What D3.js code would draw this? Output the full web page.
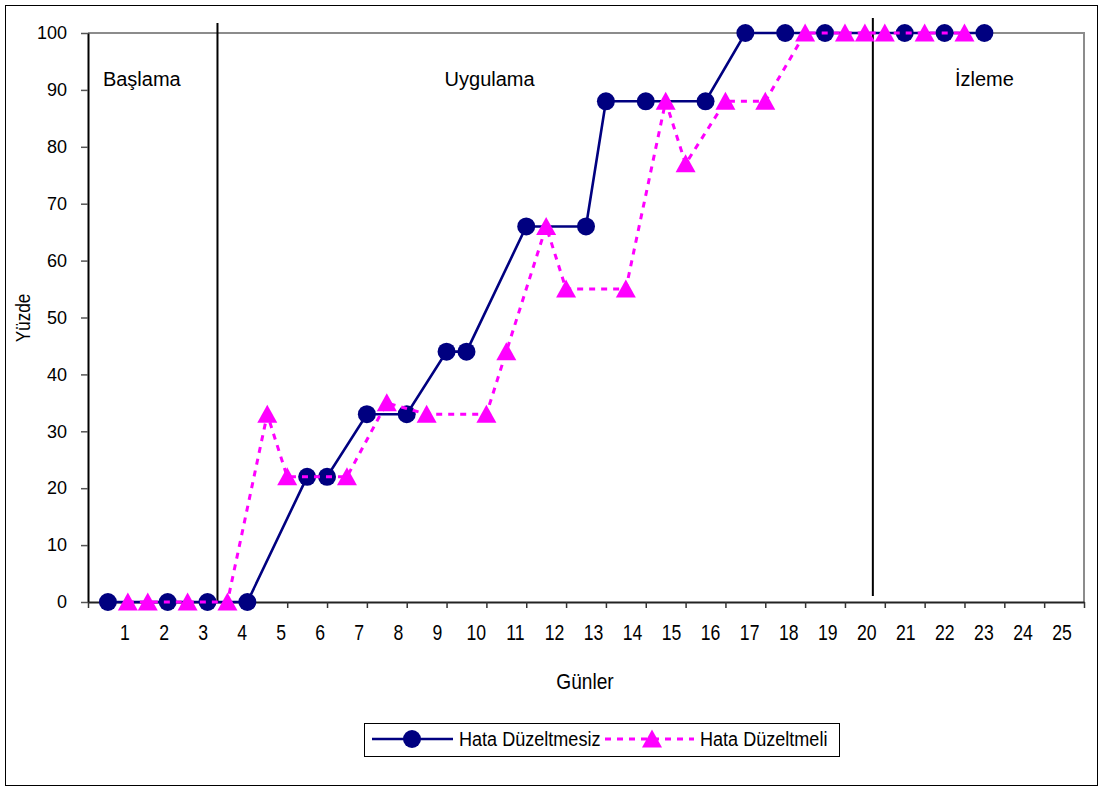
<!DOCTYPE html>
<html>
<head>
<meta charset="utf-8">
<script src="https://cdn.jsdelivr.net/npm/d3@7"></script>
<style>
  html, body { margin: 0; padding: 0; background: #fff; }
  svg { display: block; font-family: "Liberation Sans", Arial, sans-serif; }
</style>
</head>
<body>
<svg id="chart" width="1103" height="787"></svg>
<script>
// Days on which each series was measured (half-day steps) and the percentages
const plainDays = [0.5, 2, 3, 4, 5.5, 6, 7, 8, 9, 9.5, 11, 12.5, 13, 14, 15.5, 16.5, 17.5, 18.5, 20.5, 21.5, 22.5];
const plainValues = [0, 0, 0, 0, 22, 22, 33, 33, 44, 44, 66, 66, 88, 88, 88, 100, 100, 100, 100, 100, 100];

const correctedDays = [1, 1.5, 2.5, 3.5, 4.5, 5, 6.5, 7.5, 8.5, 10, 10.5, 11.5, 12, 13.5, 14.5, 15, 16, 17, 18, 19, 19.5, 20, 21, 22];
const correctedValues = [0, 0, 0, 0, 33, 22, 22, 35, 33, 33, 44, 66, 55, 55, 88, 77, 88, 88, 100, 100, 100, 100, 100, 100];

const seriesNames = ["Hata Düzeltmesiz", "Hata Düzeltmeli"];

const dayLabels = d3.range(1, 26).map(String);
const yTicks = d3.range(0, 101, 10);

// Phase boundaries and phase titles
const phaseLines = [3.25, 19.7];
const phaseNames = ["Başlama", "Uygulama", "İzleme"];
const phaseCenters = [1.35, 10.08, 22.5];

const xTitle = "Günler";
const yTitle = "Yüzde";

const svg = d3.select("#chart");
const navy = "#000080";
const magenta = "#FF00FF";

// Outer frame
svg.append("rect")
  .attr("x", 5.5).attr("y", 5.5)
  .attr("width", 1092).attr("height", 780)
  .attr("fill", "#fff").attr("stroke", "#000").attr("stroke-width", 1);

const x = d3.scaleLinear().domain([0, 25]).range([88, 1084]);
const y = d3.scaleLinear().domain([0, 100]).range([602, 33]);
const labelX = d3.scalePoint().domain(dayLabels).range([125, 1062]);

// Plot frame: grey top and right edges
svg.append("path")
  .attr("d", `M${x(0)},${y(100)}H${x(25)}V${y(0)}`)
  .attr("fill", "none").attr("stroke", "#8c8c8c").attr("stroke-width", 2);

// Y axis
const yAxis = svg.append("g")
  .attr("transform", `translate(${x(0)},0)`)
  .call(d3.axisLeft(y).tickValues(yTicks).tickSize(7).tickPadding(14).tickSizeOuter(0));
yAxis.select(".domain").attr("stroke", "#000").attr("stroke-width", 2);
yAxis.selectAll(".tick line").attr("stroke", "#555").attr("stroke-width", 1.5);
yAxis.selectAll(".tick text")
  .attr("font-size", 18).attr("fill", "#000")
  .attr("font-family", "Liberation Sans, Arial, sans-serif");

// X axis: tick marks at day boundaries
const xAxis = svg.append("g")
  .attr("transform", `translate(0,${y(0)})`)
  .call(d3.axisBottom(x).tickValues(d3.range(0, 26)).tickSize(6).tickSizeOuter(0).tickFormat(""));
xAxis.select(".domain").attr("stroke", "#222").attr("stroke-width", 2);
xAxis.selectAll(".tick line").attr("stroke", "#333").attr("stroke-width", 1.5);

// Day labels
svg.append("g").selectAll("text")
  .data(dayLabels)
  .join("text")
  .attr("transform", d => `translate(${labelX(d)},640) scale(0.82,1)`)
  .attr("text-anchor", "middle")
  .attr("font-size", 21.5)
  .attr("fill", "#000")
  .text(d => d);

// Axis titles
svg.append("text")
  .attr("transform", `translate(${(x(0) + x(25)) / 2 - 1},689) scale(0.87,1)`)
  .attr("text-anchor", "middle")
  .attr("font-size", 22)
  .text(xTitle);

svg.append("text")
  .attr("transform", "translate(30,318) rotate(-90) scale(0.86,1)")
  .attr("text-anchor", "middle")
  .attr("font-size", 20)
  .text(yTitle);

// Phase boundary lines
svg.append("line")
  .attr("x1", x(phaseLines[0])).attr("x2", x(phaseLines[0]))
  .attr("y1", 23).attr("y2", y(0))
  .attr("stroke", "#000").attr("stroke-width", 2);
svg.append("line")
  .attr("x1", x(phaseLines[1])).attr("x2", x(phaseLines[1]))
  .attr("y1", 18).attr("y2", 596)
  .attr("stroke", "#000").attr("stroke-width", 2);

// Phase titles
svg.append("g").selectAll("text")
  .data(phaseNames)
  .join("text")
  .attr("x", (d, i) => x(phaseCenters[i]))
  .attr("y", 86)
  .attr("text-anchor", "middle")
  .attr("font-size", 20)
  .text(d => d);

const plain = plainDays.map((d, i) => ({ day: d, value: plainValues[i] }));
const corrected = correctedDays.map((d, i) => ({ day: d, value: correctedValues[i] }));

const line = d3.line().x(d => x(d.day)).y(d => y(d.value));
const triangle = "M0,-9.5L10,8.5L-10,8.5Z";

// Series 1: solid navy with circles
svg.append("path")
  .datum(plain)
  .attr("d", line)
  .attr("fill", "none").attr("stroke", navy).attr("stroke-width", 2.6);
svg.append("g").selectAll("circle")
  .data(plain)
  .join("circle")
  .attr("cx", d => x(d.day)).attr("cy", d => y(d.value))
  .attr("r", 9).attr("fill", navy);

// Series 2: dashed magenta with triangles
svg.append("path")
  .datum(corrected)
  .attr("d", line)
  .attr("fill", "none").attr("stroke", magenta).attr("stroke-width", 3)
  .attr("stroke-dasharray", "6,6");
svg.append("g").selectAll("path")
  .data(corrected)
  .join("path")
  .attr("transform", d => `translate(${x(d.day)},${y(d.value)})`)
  .attr("d", triangle).attr("fill", magenta);

// Legend
const legend = svg.append("g");
legend.append("rect")
  .attr("x", 364.5).attr("y", 723.5).attr("width", 475).attr("height", 33)
  .attr("fill", "#fff").attr("stroke", "#000").attr("stroke-width", 1);
legend.append("line")
  .attr("x1", 372).attr("x2", 453).attr("y1", 739).attr("y2", 739)
  .attr("stroke", navy).attr("stroke-width", 2.6);
legend.append("circle").attr("cx", 412).attr("cy", 739).attr("r", 9).attr("fill", navy);
legend.append("text")
  .attr("transform", "translate(459,746) scale(0.86,1)")
  .attr("font-size", 21).text(seriesNames[0]);
legend.append("line")
  .attr("x1", 605).attr("x2", 694).attr("y1", 739).attr("y2", 739)
  .attr("stroke", magenta).attr("stroke-width", 3).attr("stroke-dasharray", "6,6");
legend.append("path")
  .attr("transform", "translate(652,739)")
  .attr("d", triangle).attr("fill", magenta);
legend.append("text")
  .attr("transform", "translate(700,746) scale(0.86,1)")
  .attr("font-size", 21).text(seriesNames[1]);
</script>
</body>
</html>
